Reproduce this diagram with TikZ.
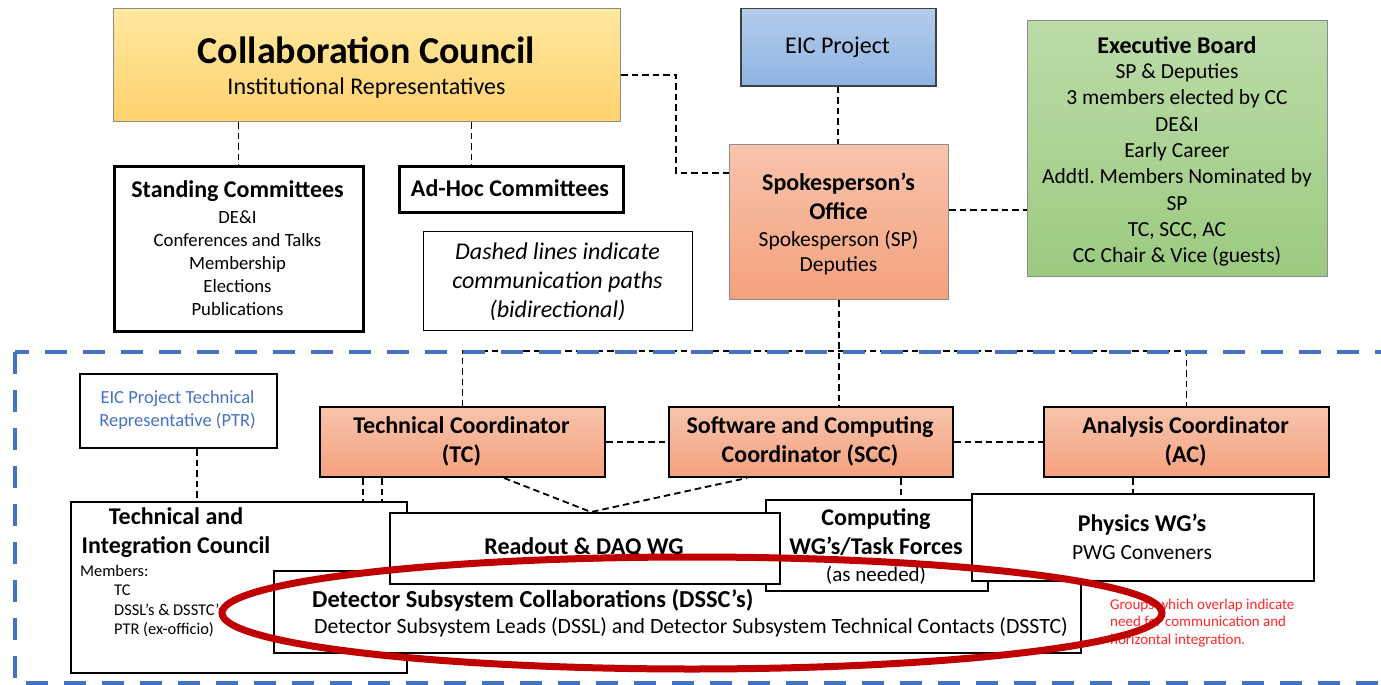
\documentclass[tikz,border=0pt]{standalone}
\usepackage{fontspec}
\setmainfont{Carlito}
\usetikzlibrary{calc}
\frenchspacing
\definecolor{ccTop}{RGB}{255,232,160}
\definecolor{ccBot}{RGB}{255,210,110}
\definecolor{eicTop}{RGB}{180,204,236}
\definecolor{eicBot}{RGB}{142,180,226}
\definecolor{soTop}{RGB}{248,196,172}
\definecolor{soBot}{RGB}{244,161,125}
\definecolor{ebTop}{RGB}{188,219,168}
\definecolor{ebBot}{RGB}{156,202,128}
\definecolor{ptrBlue}{RGB}{68,114,196}
\definecolor{ovalRed}{RGB}{192,0,0}
\definecolor{noteRed}{RGB}{255,40,40}
\definecolor{edgeGray}{RGB}{140,140,140}
\newcommand\fs[2]{\fontsize{#1}{#2}\selectfont}
\tikzset{
  box/.style={draw=black, line width=2pt, fill=white, inner sep=0pt, anchor=north west},
  heavybox/.style={box, line width=3pt},
  lightbox/.style={box, line width=1.2pt},
  ccfill/.style={box, draw=edgeGray, line width=1pt, top color=ccTop, bottom color=ccBot},
  eicfill/.style={box, draw=black!75, line width=1.5pt, top color=eicTop, bottom color=eicBot},
  sofill/.style={box, draw=edgeGray, line width=1pt, top color=soTop, bottom color=soBot},
  coordfill/.style={box, top color=soTop, bottom color=soBot},
  ebfill/.style={box, draw=edgeGray, line width=1.2pt, top color=ebTop, bottom color=ebBot},
  comm/.style={draw=black, line width=1.8pt, dash pattern=on 6.5pt off 4pt},
  txt/.style={inner sep=0pt, align=center},
  head/.style={txt, font=\fs{24}{29}\bfseries},
}
\begin{document}
\frenchspacing
\begin{tikzpicture}[x=1pt, y=-1pt]
\useasboundingbox (0,0) rectangle (1381,685);
\fill[white] (0,0) rectangle (1381,685);

% ---- boxes (geometry only) needed for connectors ----
\path
  node[ccfill, minimum width=507, minimum height=113] (CC) at (113,8) {}
  node[heavybox, minimum width=249, minimum height=165] (SC) at (113,165) {}
  node[heavybox, minimum width=224, minimum height=46] (AH) at (398,165) {}
  node[lightbox, minimum width=269, minimum height=99] (LG) at (423,231) {}
  node[eicfill, minimum width=195, minimum height=77] (EIC) at (740,8) {}
  node[sofill, minimum width=219, minimum height=155] (SO) at (729,144) {}
  node[ebfill, minimum width=300, minimum height=256] (EB) at (1027,20) {}
  node[coordfill, minimum width=285, minimum height=70] (TC) at (319,406) {}
  node[coordfill, minimum width=284, minimum height=70] (SCC) at (668,406) {}
  node[coordfill, minimum width=285, minimum height=70] (AC) at (1043,406) {}
  node[box, minimum width=197, minimum height=74] (PTR) at (79,373) {};

% ---- connectors ----
\coordinate (c1) at ($(CC.south)+(-128.5,0)$);
\coordinate (c2) at ($(CC.south)+(104.5,0)$);
\draw[comm] (c1) -- (c1 |- SC.north);
\draw[comm] (c2) -- (c2 |- AH.north);
\coordinate (k1) at (676,75);
\coordinate (k2) at (676,173);
\draw[comm] (CC.east |- k1) -- (k1) -- (k2) -- (SO.west |- k2);
\draw[comm] (EIC.south) -- (EIC.south |- SO.north);
\coordinate (k3) at (990,210);
\draw[comm] (SO.east |- k3) -- (EB.west |- k3);
\coordinate (bus) at (838.5,351);
\draw[comm] (SO.south) -- (SO.south |- SCC.north);
\draw[comm] (TC.north) |- (bus) -| (AC.north);
\draw[comm] (TC.east) -- (SCC.west);
\draw[comm] (SCC.east) -- (AC.west);
\coordinate (rdj) at (591,512);
\draw[comm] ($(TC.south)+(41.5,0)$) -- (rdj) -- ($(SCC.south)+(-64,0)$);
\coordinate (s1) at ($(SCC.south)+(90,0)$);
\coordinate (a1) at ($(AC.south)+(-53.5,0)$);
\coordinate (p1) at ($(PTR.south)+(18.5,0)$);
\coordinate (t1) at ($(TC.south)+(-99.5,0)$);
\coordinate (t2) at ($(TC.south)+(-80.5,0)$);
\draw[comm] (s1) -- (s1 |- 0,499);
\draw[comm] (a1) -- (a1 |- 0,493);
\draw[comm] (p1) -- (p1 |- 0,501);
\draw[comm] (t1) -- (t1 |- 0,501);
\draw[comm] (t2) -- (t2 |- 0,570);

% ---- lower boxes (layered) ----
\node[box, minimum width=336, minimum height=171] (TIC) at (70,501) {};
\node[box, minimum width=807, minimum height=82] (DSSC) at (273,570) {};
\node[box, minimum width=222, minimum height=91] (CMP) at (765,499) {};
\node[box, minimum width=390, minimum height=71] (RD) at (389,512) {};
\node[box, minimum width=342, minimum height=87] (PH) at (971,493) {};

% ---- texts ----
\node[txt, font=\fs{38}{44}\bfseries] at (366.5,50) {Collaboration Council};
\node[txt, font=\fs{24}{29}] at (366.5,88) {Institutional Representatives};
\node[head] at (237.5,191) {Standing Committees};
\node[txt, font=\fs{18.7}{23}] at (237.5,263) {DE\&I\\Conferences and Talks\\Membership\\Elections\\Publications};
\node[head] at (510,188) {Ad-Hoc Committees};
\node[txt, font=\fs{24}{29}\itshape] at (557.5,282) {Dashed lines indicate\\communication paths\\(bidirectional)};
\node[txt, font=\fs{24}{29}] at (837.5,47) {EIC Project};
\node[head] at (838.5,196.5) {Spokesperson’s\\Office};
\node[txt, font=\fs{21.5}{25}] at (838.5,252.5) {Spokesperson (SP)\\Deputies};
\node[head] at (1177,45) {Executive Board};
\node[txt, font=\fs{21.5}{26.3}] at (1177,165) {SP \& Deputies\\3 members elected by CC\\DE\&I\\Early Career\\Addtl. Members Nominated by\\SP\\TC, SCC, AC\\CC Chair \& Vice (guests)};
\node[head] at (461.5,441.5) {Technical Coordinator\\(TC)};
\node[head] at (810,441.5) {Software and Computing\\Coordinator (SCC)};
\node[head] at (1185.5,441.5) {Analysis Coordinator\\(AC)};
\node[txt, font=\fs{18.5}{23}, text=ptrBlue] at (177.5,410.5) {EIC Project Technical\\Representative (PTR)};
\node[head] at (176,532.5) {Technical and\\Integration Council};
\node[txt, align=left, anchor=west, font=\fs{16.4}{19.5}] at (80,601) {Members:\\\hspace*{34pt}TC\\\hspace*{34pt}DSSL’s \& DSSTC’s\\\hspace*{34pt}PTR (ex-officio)};
\node[txt, anchor=west, font=\fs{24.4}{29}\bfseries] at (312,600) {Detector Subsystem Collaborations (DSSC’s)};
\node[txt, anchor=west, font=\fs{21.8}{25}] at (314,627) {Detector Subsystem Leads (DSSL) and Detector Subsystem Technical Contacts (DSSTC)};
\node[head] at (876,532.5) {Computing\\WG’s/Task Forces};
\node[txt, font=\fs{21}{25}] at (876,575) {(as needed)};
\node[head] at (584,548) {Readout \& DAQ WG};
\node[head] at (1142,525) {Physics WG’s};
\node[txt, font=\fs{21.5}{25}] at (1142,553) {PWG Conveners};
\node[txt, align=left, anchor=west, font=\fs{15}{17.5}, text=noteRed] at (1110,623) {Groups which overlap indicate\\need for communication and\\horizontal integration.};

% ---- blue dashed region and red oval ----
\draw[ptrBlue, line width=4.5pt, dash pattern=on 22pt off 16pt] (15,352) rectangle (1420,683);
\draw[ovalRed, line width=7pt] (692,613) ellipse [x radius=470, y radius=56];
\end{tikzpicture}
\end{document}
